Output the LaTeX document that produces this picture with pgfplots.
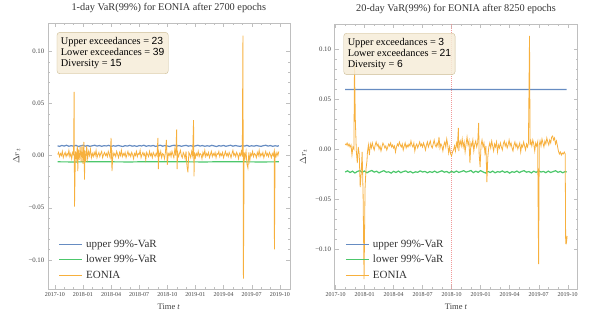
\documentclass[border=0pt]{standalone}
\usepackage{pgfplots}
\pgfplotsset{compat=1.18}
\usepackage{fontspec}
\setmainfont{Liberation Serif}
\newfontfamily\numfont{Liberation Sans}
\definecolor{upc}{rgb}{0.40,0.55,0.76}
\definecolor{loc}{rgb}{0.30,0.78,0.42}
\definecolor{eoc}{rgb}{0.97,0.69,0.24}
\definecolor{boxfill}{rgb}{0.965,0.925,0.847}
\definecolor{boxdraw}{rgb}{0.80,0.74,0.59}
\definecolor{framec}{rgb}{0.75,0.75,0.75}
\definecolor{redl}{rgb}{0.94,0.60,0.60}
\tikzset{
  vbox/.style={draw=boxdraw, fill=boxfill, fill opacity=0.85, text opacity=1, rounded corners=3pt, align=left, inner xsep=4pt, inner ysep=5pt, font=\fontsize{10.3}{11}\selectfont, anchor=north west},
}
\pgfplotsset{
  common/.style={
    scale only axis,
    axis line style={framec},
    tick style={framec},
    tick align=inside,
    major tick length=4pt, minor tick length=2pt,
    xtick={0,3,...,24},
    xticklabels={2017-10,2018-01,2018-04,2018-07,2018-10,2019-01,2019-04,2019-07,2019-10},
    minor x tick num=2,
    ytick={-100,-50,0,50,100},
    yticklabels={−0.10,−0.05,0.00,0.05,0.10},
    minor y tick num=4,
    x tick label style={font=\fontsize{6}{7}\selectfont, text=black!75},
    y tick label style={font=\fontsize{6.8}{8}\selectfont, text=black!75},
    /pgf/number format/assume math mode=true,
    title style={at={(0.5,1)}, anchor=base, yshift=6.5pt, font=\fontsize{10.3}{12}\selectfont, text=black!80},
    xlabel={Time \textit{t}},
    xlabel style={at={(0.5,0)}, anchor=base, yshift=-20pt, font=\fontsize{8.5}{10}\selectfont, text=black!75},
    ylabel={$\Delta r_t$},
    ylabel style={at={(0,0.5)}, anchor=center, yshift=31pt, font=\fontsize{9}{10}\selectfont, text=black!75},
    legend cell align=left,
    legend image code/.code={\draw[#1] (0pt,0pt) -- (23pt,0pt);},
    legend style={draw=none, fill=none, font=\fontsize{11}{12}\selectfont, nodes={font=\fontsize{11}{12}\selectfont, text=black!80, inner xsep=3.5pt}, row sep=2.5pt, anchor=south west, inner sep=2pt},
  },
}
\begin{document}
\begin{tikzpicture}[x=1pt,y=1pt]
\path[use as bounding box] (0,0) rectangle (592,311);
% ---------------- left panel
\begin{axis}[common, at={(51,21)}, width=242pt, height=266pt,
  xmin=-0.75, xmax=25.07, ymin=-128, ymax=127,
  title={1-day VaR(99\%) for EONIA after 2700 epochs},
  legend style={at={(0.035,0.02)}}]
\addplot[draw=upc, line width=1.2pt] coordinates {(0.3,9.4)(0.5,8.8)(0.75,9.7)(1,9.1)(1.25,9.9)(1.5,8.9)(1.75,9.5)(2,9.0)(2.25,9.8)(2.5,8.7)(2.75,9.3)(3,9.9)(3.25,9.0)(3.5,9.6)(3.75,8.8)(4,9.4)(4.25,9.9)(4.5,9.1)(4.75,9.6)(5,8.9)(5.25,9.5)(5.5,9.2)(5.75,9.8)(6,8.8)(6.25,9.4)(6.5,9.0)(6.75,9.7)(7,9.2)(7.25,8.7)(7.5,9.5)(7.75,9.1)(8,9.8)(8.25,9.0)(8.5,9.4)(8.75,8.8)(9,9.6)(9.25,9.2)(9.5,9.9)(9.75,8.9)(10,9.5)(10.25,9.1)(10.5,9.7)(10.75,8.8)(11,9.4)(11.25,9.9)(11.5,9.0)(11.75,9.6)(12,9.2)(12.25,8.7)(12.5,9.5)(12.75,9.9)(13,9.1)(13.25,9.6)(13.5,8.9)(13.75,9.4)(14,9.8)(14.25,9.0)(14.5,9.5)(14.75,8.8)(15,9.3)(15.25,9.9)(15.5,9.1)(15.75,9.6)(16,8.9)(16.25,9.4)(16.5,9.0)(16.75,9.8)(17,9.2)(17.25,8.7)(17.5,9.5)(17.75,9.1)(18,9.7)(18.25,8.9)(18.5,9.4)(18.75,9.9)(19,9.0)(19.25,9.6)(19.5,9.2)(19.75,8.8)(20,9.5)(20.25,9.1)(20.5,9.8)(20.75,8.9)(21,9.4)(21.25,9.0)(21.5,9.6)(21.75,9.2)(22,8.8)(22.25,9.5)(22.5,9.9)(22.75,9.1)(23,9.6)(23.25,8.9)(23.5,9.4)(23.75,9.0)(23.9,9.5)};
\addlegendentry{upper 99\%-VaR}
\addplot[draw=loc, line width=1.2pt] coordinates {(0.3,-6.0)(2,-6.1)(4,-5.9)(6,-6.0)(8,-6.1)(10,-5.9)(12,-6.0)(14,-6.0)(16,-6.1)(18,-5.9)(20,-6.0)(22,-6.1)(23.9,-6.0)};
\addlegendentry{lower 99\%-VaR}
\addplot[draw=eoc, line width=0.8pt] coordinates {(0.3,1)(0.4,3)(0.5,-1)(0.6,2)(0.7,0)(0.8,4)(0.9,-2)(1.0,1)(1.1,3)(1.2,-1)(1.3,2)(1.4,0)(1.5,5)(1.6,-1)(1.7,2)(1.8,-3)(1.9,3)(2.0,1)(2.06,61)(2.1,-49)(2.2,4)(2.3,-3)(2.4,9)(2.45,-15)(2.5,6)(2.6,-4)(2.7,8)(2.8,-6)(2.9,10)(3.0,-8)(3.1,13)(3.17,-23)(3.2,5)(3.3,-6)(3.4,9)(3.5,-3)(3.6,4)(3.7,0)(3.8,6)(3.9,-2)(4.0,2)(4.1,-1)(4.2,3)(4.3,0)(4.4,5)(4.5,-2)(4.6,1)(4.7,3)(4.8,-1)(4.9,2)(5.0,4)(5.1,-2)(5.2,1)(5.3,3)(5.4,0)(5.5,2)(5.6,-1)(5.7,4)(5.8,1)(5.9,-2)(6.0,17)(6.1,-15)(6.2,3)(6.3,0)(6.4,2)(6.5,-1)(6.6,4)(6.7,1)(6.8,-2)(6.9,3)(7.0,0)(7.1,5)(7.2,-1)(7.3,2)(7.4,0)(7.5,3)(7.6,-2)(7.7,1)(7.8,4)(7.9,0)(8.0,2)(8.1,-1)(8.2,3)(8.3,1)(8.4,-3)(8.5,2)(8.6,0)(8.7,4)(8.8,-1)(8.9,2)(9.0,1)(9.1,5)(9.2,-2)(9.3,1)(9.4,3)(9.5,0)(9.6,2)(9.7,-4)(9.8,3)(9.9,1)(10.0,-1)(10.1,4)(10.2,0)(10.3,2)(10.4,-2)(10.5,3)(10.6,1)(10.7,-1)(10.8,2)(10.9,0)(11.0,17)(11.05,-13)(11.1,3)(11.2,0)(11.3,4)(11.4,-2)(11.5,2)(11.6,1)(11.7,-3)(11.8,3)(11.9,15)(12.0,-9)(12.1,2)(12.2,0)(12.3,3)(12.4,-1)(12.5,4)(12.6,1)(12.7,-2)(12.8,6)(12.9,0)(13.0,25)(13.05,-13)(13.1,3)(13.2,-1)(13.3,2)(13.4,5)(13.5,0)(13.6,-2)(13.7,3)(13.8,1)(13.9,-3)(14.0,4)(14.1,-10)(14.2,-16)(14.3,3)(14.4,1)(14.5,-2)(14.6,4)(14.7,0)(14.8,34)(14.85,-20)(14.9,3)(15.0,-2)(15.1,2)(15.2,0)(15.3,4)(15.4,-1)(15.5,2)(15.6,1)(15.7,-3)(15.8,3)(15.9,0)(16.0,5)(16.1,-1)(16.2,2)(16.3,0)(16.4,3)(16.5,-2)(16.6,1)(16.7,4)(16.8,-1)(16.9,2)(17.0,0)(17.1,3)(17.2,-2)(17.3,2)(17.4,1)(17.5,4)(17.6,-1)(17.7,2)(17.8,0)(17.9,3)(18.0,-2)(18.1,1)(18.2,4)(18.3,0)(18.4,2)(18.5,-1)(18.6,3)(18.7,1)(18.8,-2)(18.9,2)(19.0,5)(19.1,0)(19.2,2)(19.3,-1)(19.4,3)(19.5,1)(19.6,-3)(19.7,2)(19.8,0)(19.9,4)(20.0,-1)(20.07,115)(20.12,-118)(20.2,3)(20.3,-2)(20.4,4)(20.5,-8)(20.6,-12)(20.7,3)(20.8,-5)(20.9,2)(21.0,0)(21.1,4)(21.2,-1)(21.3,2)(21.4,1)(21.5,-2)(21.6,3)(21.7,0)(21.8,5)(21.9,-1)(22.0,2)(22.1,0)(22.2,3)(22.3,-2)(22.4,1)(22.5,4)(22.6,0)(22.7,2)(22.8,-1)(22.9,3)(23.0,1)(23.1,-2)(23.2,2)(23.3,0)(23.4,4)(23.43,-90)(23.5,2)(23.6,-1)(23.7,3)(23.8,0)(23.9,4)};
\addlegendentry{EONIA}
\node[vbox] at (rel axis cs:0.037,0.966) {Upper exceedances = {\numfont 23}\\Lower exceedances = {\numfont 39}\\Diversity = {\numfont 15}};
\end{axis}
% ---------------- right panel
\begin{axis}[common, at={(346,22)}, width=243pt, height=265pt,
  xmin=-0.1, xmax=25.03, ymin=-140, ymax=125,
  title={20-day VaR(99\%) for EONIA after 8250 epochs},
  legend style={at={(0.035,0.02)}}]
\addplot[draw=redl, densely dotted, line width=1pt, forget plot] coordinates {(12,-140)(12,-100)(12,-50)(12,0)(12,50)(12,100)(12,125)};
\addplot[draw=upc, line width=1.2pt] coordinates {(1.0,59.5)(3,59.4)(5,59.5)(7,59.4)(9,59.5)(11,59.4)(13,59.5)(15,59.4)(17,59.5)(19,59.4)(21,59.5)(23.9,59.5)};
\addlegendentry{upper 99\%-VaR}
\addplot[draw=loc, line width=1.2pt] coordinates {(1,-23.0)(1.25,-21.8)(1.5,-23.5)(1.75,-22.2)(2,-24.0)(2.25,-22.5)(2.5,-21.6)(2.75,-23.3)(3,-22.0)(3.25,-23.8)(3.5,-22.4)(3.75,-21.5)(4,-23.1)(4.25,-22.2)(4.5,-23.9)(4.75,-22.6)(5,-21.7)(5.25,-23.2)(5.5,-22.8)(5.75,-24.1)(6,-22.3)(6.25,-23.5)(6.5,-22.0)(6.75,-23.7)(7,-22.6)(7.25,-21.9)(7.5,-23.4)(7.75,-22.5)(8,-24.0)(8.25,-22.8)(8.5,-23.3)(8.75,-21.9)(9,-23.0)(9.25,-22.4)(9.5,-23.8)(9.75,-22.6)(10,-23.4)(10.25,-22.1)(10.5,-23.6)(10.75,-22.7)(11,-21.8)(11.25,-23.2)(11.5,-22.5)(11.75,-23.9)(12,-22.3)(12.25,-23.5)(12.5,-22.0)(12.75,-23.4)(13,-22.6)(13.25,-21.7)(13.5,-23.1)(13.75,-22.4)(14,-21.5)(14.25,-23.6)(14.5,-22.2)(14.75,-23.3)(15,-21.6)(15.25,-22.9)(15.5,-24.0)(15.75,-22.4)(16,-23.5)(16.25,-22.1)(16.5,-23.8)(16.75,-22.6)(17,-23.2)(17.25,-21.9)(17.5,-23.4)(17.75,-22.5)(18,-24.1)(18.25,-22.7)(18.5,-23.3)(18.75,-22.0)(19,-23.6)(19.25,-22.4)(19.5,-21.7)(19.75,-23.2)(20,-22.5)(20.25,-23.9)(20.5,-22.2)(20.75,-23.4)(21,-21.8)(21.25,-23.0)(21.5,-22.4)(21.75,-23.7)(22,-22.1)(22.25,-23.5)(22.5,-22.6)(22.75,-21.7)(23,-23.3)(23.25,-22.4)(23.5,-23.8)(23.75,-22.5)(23.9,-23.1)};
\addlegendentry{lower 99\%-VaR}
\addplot[draw=eoc, line width=0.8pt] coordinates {(1.0,5)(1.1,4)(1.2,6)(1.3,3)(1.4,5)(1.5,2)(1.6,4)(1.7,-6)(1.8,2)(1.9,0)(1.96,85)(2.05,28)(2.15,-2)(2.25,-14)(2.35,2)(2.45,-5)(2.55,-38)(2.65,-25)(2.75,-3)(2.85,-45)(2.95,-130)(3.05,-40)(3.15,-20)(3.25,-12)(3.3,-3)(3.4,4)(3.5,-6)(3.6,5)(3.7,1)(3.8,6)(3.9,2)(4.0,-1)(4.1,4)(4.2,7)(4.3,3)(4.4,5)(4.5,0)(4.6,3)(4.7,-2)(4.8,2)(4.9,6)(5.0,4)(5.1,1)(5.2,3)(5.3,-1)(5.4,2)(5.5,5)(5.6,3)(5.7,6)(5.8,2)(5.9,4)(6.0,1)(6.1,3)(6.2,-3)(6.3,2)(6.4,5)(6.5,3)(6.6,7)(6.7,4)(6.8,2)(6.9,5)(7.0,-1)(7.1,3)(7.2,6)(7.3,1)(7.4,4)(7.5,2)(7.6,5)(7.7,3)(7.8,8)(7.9,4)(8.0,2)(8.1,6)(8.2,-2)(8.3,3)(8.4,5)(8.5,1)(8.6,4)(8.7,7)(8.8,3)(8.9,5)(9.0,2)(9.1,6)(9.2,3)(9.3,-1)(9.4,4)(9.5,7)(9.6,2)(9.7,5)(9.8,8)(9.9,3)(10.0,1)(10.1,5)(10.2,9)(10.3,4)(10.4,2)(10.5,6)(10.6,3)(10.7,12)(10.8,1)(10.9,5)(11.0,3)(11.1,-2)(11.2,4)(11.3,7)(11.4,2)(11.5,10)(11.6,4)(11.7,-4)(11.8,2)(11.9,-5)(12.0,-7)(12.1,-3)(12.2,-1)(12.3,3)(12.4,-2)(12.5,6)(12.6,2)(12.7,21)(12.75,-2)(12.8,4)(12.9,8)(13.0,3)(13.1,10)(13.2,2)(13.3,7)(13.4,-3)(13.5,5)(13.6,12)(13.7,4)(13.8,8)(13.9,-14)(14.0,6)(14.1,3)(14.2,9)(14.3,-2)(14.4,5)(14.5,8)(14.6,2)(14.7,6)(14.8,26)(14.85,-5)(14.95,-18)(15.05,4)(15.15,9)(15.25,2)(15.35,6)(15.45,-4)(15.55,3)(15.65,-33)(15.75,-8)(15.85,2)(15.95,6)(16.05,1)(16.15,8)(16.25,3)(16.35,-2)(16.45,5)(16.55,2)(16.65,7)(16.75,-3)(16.85,4)(16.95,1)(17.05,6)(17.15,2)(17.25,-1)(17.35,5)(17.45,8)(17.55,3)(17.65,6)(17.75,1)(17.85,4)(17.95,9)(18.05,3)(18.15,6)(18.25,1)(18.35,-2)(18.45,4)(18.55,7)(18.65,2)(18.75,5)(18.85,0)(18.95,3)(19.05,6)(19.15,-3)(19.25,4)(19.35,2)(19.45,7)(19.55,3)(19.65,-1)(19.75,5)(19.85,2)(19.95,6)(20.06,113)(20.12,4)(20.2,8)(20.3,3)(20.4,9)(20.5,5)(20.6,-2)(20.7,6)(20.8,3)(20.9,7)(21.0,-115)(21.07,4)(21.15,8)(21.25,3)(21.35,10)(21.45,6)(21.55,2)(21.65,8)(21.75,5)(21.85,11)(21.95,7)(22.05,4)(22.15,9)(22.25,6)(22.35,12)(22.45,13)(22.55,9)(22.65,11)(22.75,5)(22.85,8)(22.95,3)(23.05,-2)(23.15,-5)(23.25,-3)(23.35,-6)(23.45,-4)(23.55,-5)(23.65,-3)(23.75,-5)(23.8,-95)(23.85,-88)(23.9,-92)(23.95,-87)};
\addlegendentry{EONIA}
\node[vbox] at (rel axis cs:0.037,0.966) {Upper exceedances = {\numfont 3}\\Lower exceedances = {\numfont 21}\\Diversity = {\numfont 6}};
\end{axis}
\end{tikzpicture}
\end{document}
